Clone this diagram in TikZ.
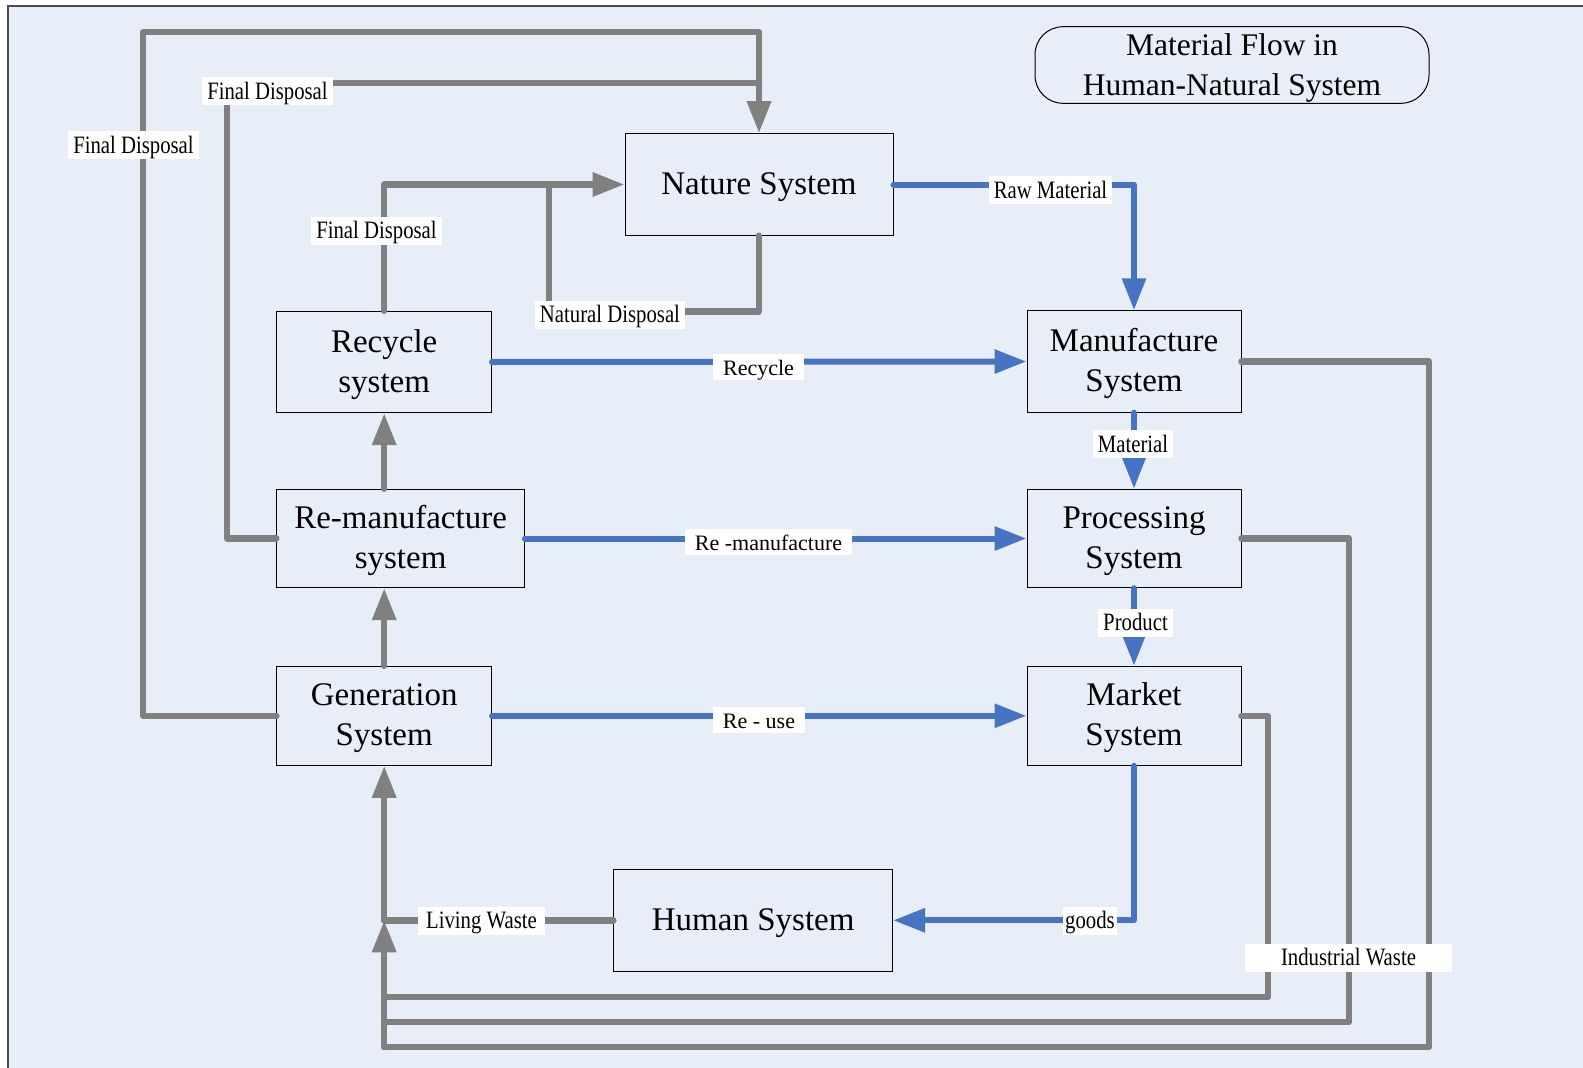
\documentclass[tikz,border=0pt]{standalone}
\usepackage{fontspec}
\setmainfont{Liberation Serif}
\newfontfamily\condfont[FakeStretch=0.83]{Liberation Serif}
\usetikzlibrary{arrows.meta,calc}
\definecolor{bg}{HTML}{E7EEF8}
\definecolor{gry}{HTML}{808080}
\definecolor{blu}{HTML}{4674C2}
\newcommand\mybt[2][-8.25pt]{\smash{\raisebox{#1}{\begin{tabular}{@{}c@{}}#2\end{tabular}}}}
\begin{document}
\begin{tikzpicture}[x=1pt,y=-1pt,
 sysbox/.style={draw=black,line width=1pt,font=\fontsize{33}{40}\selectfont,inner sep=0pt},
 gline/.style={draw=gry,line width=6.5pt,line join=round,line cap=round},
 bline/.style={draw=blu,line width=6pt,line join=round,line cap=round},
 tip/.style={-{Triangle[length=32pt,width=23pt]}},
 glabel/.style={fill=white,font=\condfont\fontsize{25}{28}\selectfont,text height=20.5pt,text depth=4.5pt,inner ysep=1.5pt,inner xsep=5pt},
 blabel/.style={fill=white,font=\fontsize{22}{26}\selectfont,text height=19pt,text depth=3pt,inner ysep=2pt,inner xsep=10pt}]
\useasboundingbox (0,0) rectangle (1583,1068);
\fill[white] (0,0) rectangle (1583,1068);
\fill[bg] (8,6) rectangle (1583,1068);
\draw[line width=1.5pt,black!70] (8,1068) -- (8,6) -- (1583,6);

% boxes
\node[sysbox,minimum width=268pt,minimum height=101.6pt] (nat) at (759,184.5) {\mybt{Nature System}};
\node[sysbox,minimum width=214.7pt,minimum height=101.4pt] (rec) at (384.2,362) {\mybt{Recycle\\system}};
\node[sysbox,minimum width=247.6pt,minimum height=98.4pt] (rem) at (400.6,538.5) {\mybt{Re-manufacture\\system}};
\node[sysbox,minimum width=214.7pt,minimum height=99pt] (gen) at (384.2,715.8) {\mybt{Generation\\System}};
\node[sysbox,minimum width=214pt,minimum height=101.4pt] (man) at (1134,361.5) {\mybt{Manufacture\\System}};
\node[sysbox,minimum width=214pt,minimum height=98.4pt] (pro) at (1134,538.5) {\mybt{Processing\\System}};
\node[sysbox,minimum width=214pt,minimum height=99pt] (mkt) at (1134,715.8) {\mybt{Market\\System}};
\node[sysbox,minimum width=278.7pt,minimum height=101.9pt] (hum) at (753.2,920.3) {\mybt{Human System}};
\node[draw=black,line width=1pt,rounded corners=28pt,minimum width=394pt,minimum height=76.6pt,inner sep=0pt,font=\fontsize{31.5}{40}\selectfont] (ttl) at (1232,65) {\mybt[-8.4pt]{Material Flow in\\Human-Natural System}};

% gray connectors
\coordinate (fa) at (143,32);
\coordinate (fb) at (227,83);
\coordinate (fbj) at (759,83);
\draw[gline,tip] (gen.west) -| (fa) -| (nat.north);
\draw[gline] (rem.west) -| (fb) -- (fbj);
\draw[gline,tip] (rec.north) |- (nat.west);
\coordinate (nd) at (549,311.5);
\coordinate (ndj) at (549,184.5);
\draw[gline] (nat.south) |- (nd) -- (ndj);
\draw[gline,tip] (rec.south |- rem.north) -- (rec.south);
\draw[gline,tip] (gen.north) -- (gen.north |- rem.south);
\coordinate (lw) at (gen.south |- hum.west);
\draw[gline,tip] (hum.west) -- (lw) -- (gen.south);
\coordinate (c1) at (1268,997);
\coordinate (c2) at (1349,1022);
\coordinate (c3) at (1429,1047);
\coordinate (b1) at (gen.south |- c1);
\coordinate (b2) at (gen.south |- c2);
\coordinate (b3) at (gen.south |- c3);
\draw[gline] (mkt.east) -| (c1) -- (b1);
\draw[gline] (pro.east) -| (c2) -- (b2);
\draw[gline] (man.east) -| (c3) -- (b3);
\draw[gline,tip] (b3) -- (lw);

% blue connectors
\draw[bline,tip] (nat.east) -| (man.north);
\draw[bline,tip] (rec.east) -- (man.west);
\draw[bline,tip] (man.south) -- (pro.north);
\draw[bline,tip] (rem.east) -- (pro.west);
\draw[bline,tip] (pro.south) -- (mkt.north);
\draw[bline,tip] (gen.east) -- (mkt.west);
\draw[bline,tip] (mkt.south) |- (hum.east);

% labels
\node[glabel] (l1) at (133.5,145) {Final Disposal};
\node[glabel] (l2) at (267.5,91) {Final Disposal};
\node[glabel] (l3) at (376.5,230.5) {Final Disposal};
\node[glabel] (l4) at (610,314.5) {Natural Disposal};
\node[glabel] (l5) at (1050.5,190) {Raw Material};
\node[glabel] (l6) at (1133,444) {Material};
\node[glabel] (l7) at (1135.5,622.5) {Product};
\node[glabel,inner xsep=2pt] (l8) at (1090,920.5) {goods};
\node[glabel,inner xsep=8pt] (l9) at (481.5,920.5) {Living Waste};
\node[glabel,minimum width=207pt] (l10) at (1348.5,957.5) {Industrial Waste};
\node[blabel] (l11) at (758.5,367) {Recycle};
\node[blabel] (l12) at (768.5,542) {Re -manufacture};
\node[blabel] (l13) at (759,720) {Re - use};
\end{tikzpicture}
\end{document}
